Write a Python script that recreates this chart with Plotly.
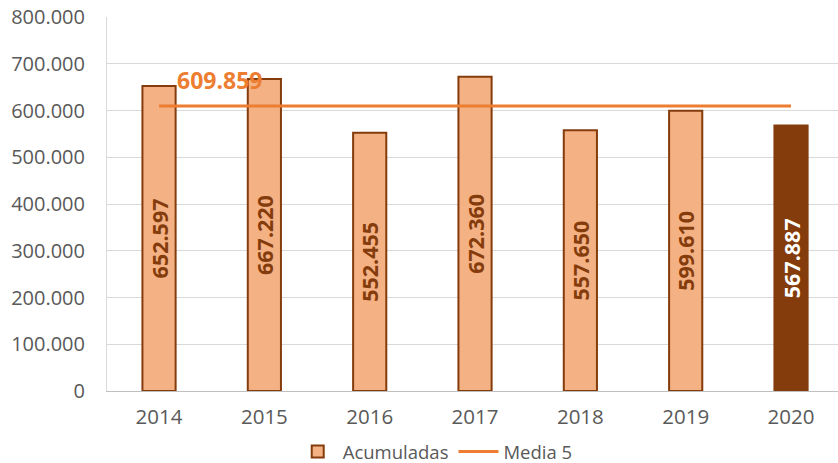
import plotly.graph_objects as go

years = ["2014", "2015", "2016", "2017", "2018", "2019", "2020"]
acumuladas = [652597, 667220, 552455, 672360, 557650, 599610, 567887]
media5_value = 609859
media5 = [media5_value] * len(years)
y_ticks = [0, 100000, 200000, 300000, 400000, 500000, 600000, 700000, 800000]
y_tick_labels = ["0", "100.000", "200.000", "300.000", "400.000", "500.000", "600.000", "700.000", "800.000"]


def fmt(v):
    return f"{v:,}".replace(",", ".")


light = "#F4B183"
dark = "#843C0C"
fills = [light] * (len(years) - 1) + [dark]
text_colors = [dark] * (len(years) - 1) + ["#FFFFFF"]

fig = go.Figure()
fig.add_trace(go.Bar(
    x=years, y=acumuladas, name="Acumuladas",
    width=0.315,
    marker=dict(color=fills, line=dict(color=dark, width=2)),
    text=[fmt(v) for v in acumuladas],
    textposition="inside", insidetextanchor="middle", textangle=-90,
    textfont=dict(family="Open Sans", size=21.5, color=text_colors, weight="bold"),
    constraintext="none",
))
fig.add_trace(go.Scatter(
    x=years, y=media5, name="Media 5", mode="lines",
    line=dict(color="#ED7D31", width=3),
))
fig.add_annotation(
    x=0, y=media5_value, xref="x", yref="y", text="<b>" + fmt(media5_value) + "</b>",
    showarrow=False, xanchor="left", yanchor="middle", xshift=16, yshift=26,
    font=dict(family="Open Sans", size=23, color="#ED7D31"),
)

fig.update_layout(
    width=838, height=463,
    margin=dict(l=107, r=0, t=17, b=72, autoexpand=False),
    paper_bgcolor="white", plot_bgcolor="white",
    font=dict(family="Open Sans", color="#595959"),
    showlegend=True,
    legend=dict(orientation="h", x=0.449, xanchor="center", y=-0.163, yanchor="middle",
                font=dict(size=18.5, color="#595959"), itemwidth=40, tracegroupgap=0),
    bargap=0.5,
)
fig.update_xaxes(
    type="category", range=[-0.494, 6.446], automargin=False,
    showline=True, linecolor="#BFBFBF", linewidth=1,
    tickfont=dict(size=20.5, color="#595959"), ticks="", ticklabelstandoff=7,
    showgrid=False,
)
fig.update_yaxes(
    range=[0, 800000], tickvals=y_ticks, ticktext=y_tick_labels, automargin=False,
    showgrid=True, gridcolor="#D9D9D9", gridwidth=1,
    showline=True, linecolor="#D9D9D9", linewidth=1,
    tickfont=dict(size=20, color="#595959"), ticks="", ticklabelstandoff=17,
    zeroline=False,
)

fig.write_html("out.html", config={"displayModeBar": False},
               post_script="document.body.style.margin='0px';document.body.style.overflow='hidden';")
